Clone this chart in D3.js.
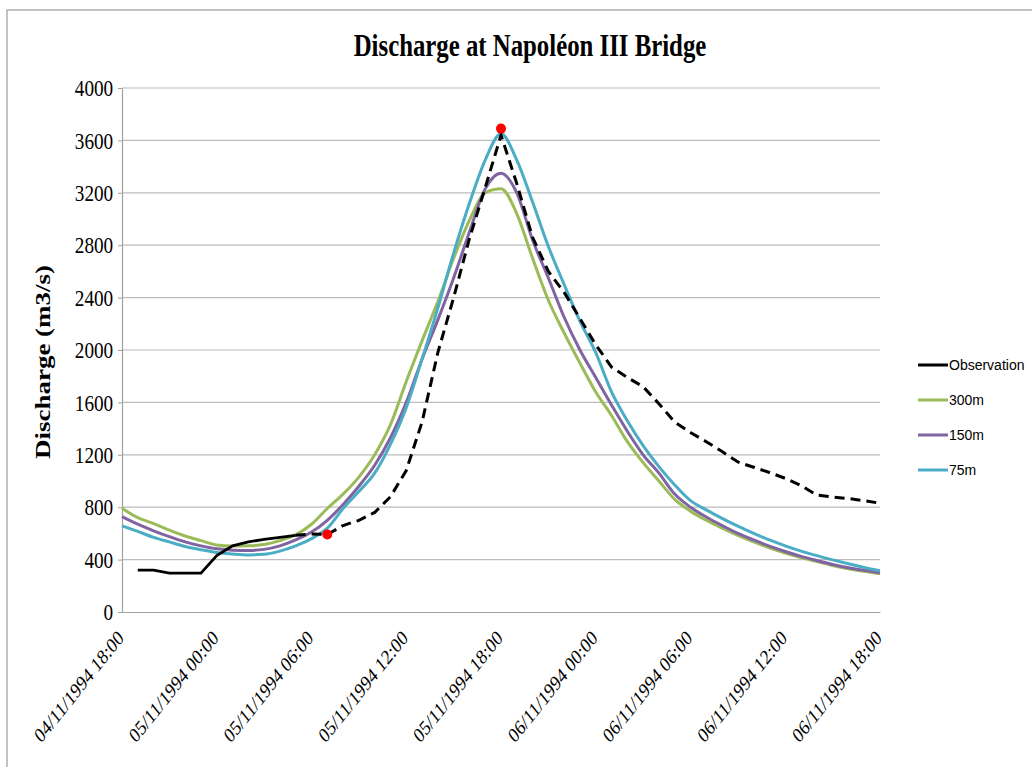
<!DOCTYPE html>
<html>
<head>
<meta charset="utf-8">
<script src="https://cdn.jsdelivr.net/npm/d3@7/dist/d3.min.js"></script>
<style>
  body { margin: 0; background: #fff; }
</style>
</head>
<body>
<svg width="1032" height="767"></svg>
<script>
// hourly values, 04/11/1994 18:00 -> 06/11/1994 18:00
var tickLabels = ["04/11/1994 18:00", "05/11/1994 00:00", "05/11/1994 06:00", "05/11/1994 12:00",
  "05/11/1994 18:00", "06/11/1994 00:00", "06/11/1994 06:00", "06/11/1994 12:00", "06/11/1994 18:00"];
var yTicks = [0, 400, 800, 1200, 1600, 2000, 2400, 2800, 3200, 3600, 4000];

var observation = [null, 320, 320, 297, 297, 297, 430, 505, 535, 555, 570, 585, 595, 592,
  660, 700, 760, 880, 1080, 1450, 1980, 2400, 2850, 3240, 3640, 3270, 2860, 2600, 2440,
  2240, 2040, 1870, 1790, 1720, 1590, 1450, 1370, 1300, 1225, 1145, 1105, 1065, 1020,
  965, 893, 878, 866, 850, 830];
var obsSolidEnd = 11; // observation drawn solid up to this hour, dashed after

var m300 = [792, 720, 675, 625, 580, 545, 512, 503, 505, 515, 545, 590, 670, 790,
  900, 1030, 1200, 1430, 1760, 2070, 2370, 2700, 2990, 3200, 3230, 3040, 2700, 2380,
  2130, 1900, 1680, 1500, 1300, 1140, 1000, 860, 770, 700, 640, 585, 535, 490, 450,
  415, 385, 355, 330, 310, 292];
var m150 = [728, 670, 620, 575, 535, 505, 482, 472, 470, 478, 505, 550, 610, 700,
  820, 960, 1120, 1330, 1600, 1930, 2230, 2550, 2900, 3230, 3350, 3200, 2840, 2550,
  2250, 2000, 1790, 1580, 1380, 1200, 1060, 900, 800, 725, 660, 600, 550, 503, 462,
  425, 393, 363, 338, 318, 300];
var m75 = [658, 615, 570, 535, 500, 475, 455, 443, 436, 440, 465, 505, 560, 640,
  790, 920, 1060, 1280, 1560, 1930, 2320, 2740, 3120, 3450, 3650, 3450, 3130, 2790,
  2500, 2220, 1980, 1680, 1460, 1270, 1110, 970, 850, 780, 715, 655, 600, 550, 505,
  465, 430, 398, 368, 340, 315];

// red markers: [hour, value]
var markers = [[13, 592], [24, 3690]];

var seriesNames = ["Observation", "300m", "150m", "75m"];
var seriesColors = ["#000000", "#9bbb59", "#8064a2", "#4bacc6"];

var svg = d3.select("svg");
var plotLeft = 122, plotRight = 880, plotTop = 88, plotBottom = 612;
var sx = 0.8; // text is horizontally squeezed in the original

var parse = d3.timeParse("%d/%m/%Y %H:%M");
var fmt = d3.timeFormat("%d/%m/%Y %H:%M");
var start = parse(tickLabels[0]);
var hourDate = function(h) { return d3.timeHour.offset(start, h); };

var x = d3.scaleTime()
  .domain([start, parse(tickLabels[tickLabels.length - 1])])
  .range([plotLeft, plotRight]);
var y = d3.scaleLinear().domain([0, 4000]).range([plotBottom, plotTop]);

// outer frame
svg.append("rect")
  .attr("x", 7).attr("y", 10).attr("width", 1100).attr("height", 800)
  .attr("fill", "none").attr("stroke", "#b0b0b0").attr("stroke-width", 1.5);

// title
svg.append("text")
  .attr("transform", "translate(530,56) scale(" + sx + ",1)")
  .attr("text-anchor", "middle")
  .style("font-family", "'Liberation Serif', 'Times New Roman', serif")
  .style("font-weight", "bold")
  .style("font-size", "31px")
  .text("Discharge at Napoléon III Bridge");

// grid
svg.append("g")
  .selectAll("line")
  .data(yTicks.filter(function(d) { return d > 0; }))
  .enter().append("line")
  .attr("x1", plotLeft).attr("x2", plotRight)
  .attr("y1", function(d) { return y(d); })
  .attr("y2", function(d) { return y(d); })
  .attr("stroke", "#bcbcbc").attr("stroke-width", 1.2);

// y axis
var yAxis = svg.append("g")
  .attr("transform", "translate(" + plotLeft + ",0)")
  .call(d3.axisLeft(y).tickValues(yTicks).tickFormat(d3.format("d"))
    .tickSize(4).tickPadding(7).tickSizeOuter(0));
yAxis.select(".domain").attr("stroke", "#a0a0a0").attr("stroke-width", 1.2);
yAxis.selectAll(".tick line").attr("stroke", "#a0a0a0");
yAxis.selectAll("text")
  .attr("transform", "scale(" + sx + ",1)")
  .attr("x", -11)
  .style("font-family", "'Liberation Serif', 'Times New Roman', serif")
  .style("font-size", "24px")
  .attr("fill", "#000");

// x axis
var xAxis = svg.append("g")
  .attr("transform", "translate(0," + plotBottom + ")")
  .call(d3.axisBottom(x).tickValues(tickLabels.map(parse)).tickFormat(fmt).tickSize(0).tickSizeOuter(0));
xAxis.select(".domain").attr("stroke", "#a0a0a0").attr("stroke-width", 1.2);
xAxis.selectAll("text")
  .attr("x", 0).attr("y", 0).attr("dy", "0.35em")
  .attr("text-anchor", "end")
  .attr("transform", "translate(-2,22) scale(" + sx + ",1) rotate(-45)")
  .style("font-family", "'Liberation Serif', 'Times New Roman', serif")
  .style("font-size", "21px")
  .attr("fill", "#000");

// y title
svg.append("text")
  .attr("transform", "translate(42,362) scale(" + sx + ",1) rotate(-90)")
  .attr("text-anchor", "middle")
  .attr("dy", "0.35em")
  .style("font-family", "'Liberation Serif', 'Times New Roman', serif")
  .style("font-weight", "bold")
  .style("font-size", "27px")
  .text("Discharge (m3/s)");

// lines
var smooth = d3.line()
  .x(function(d, i) { return x(hourDate(i)); })
  .y(function(d) { return y(d); })
  .curve(d3.curveMonotoneX);

var straight = d3.line()
  .defined(function(d) { return d[1] !== null; })
  .x(function(d) { return x(hourDate(d[0])); })
  .y(function(d) { return y(d[1]); });

var models = [m300, m150, m75];
svg.append("g")
  .selectAll("path")
  .data(models)
  .enter().append("path")
  .attr("d", smooth)
  .attr("fill", "none")
  .attr("stroke", function(d, i) { return seriesColors[i + 1]; })
  .attr("stroke-width", 3);

var obsPts = observation.map(function(v, i) { return [i, v]; });
svg.append("path")
  .attr("d", straight(obsPts.slice(0, obsSolidEnd + 1)))
  .attr("fill", "none").attr("stroke", "#000").attr("stroke-width", 2.8);
svg.append("path")
  .attr("d", straight(obsPts.slice(obsSolidEnd)))
  .attr("fill", "none").attr("stroke", "#000").attr("stroke-width", 3)
  .attr("stroke-dasharray", "10,6");

svg.append("g")
  .selectAll("circle")
  .data(markers)
  .enter().append("circle")
  .attr("cx", function(d) { return x(hourDate(d[0])); })
  .attr("cy", function(d) { return y(d[1]); })
  .attr("r", 5)
  .attr("fill", "#ff0000");

// legend
var legend = svg.append("g").attr("transform", "translate(918,365)");
var item = legend.selectAll("g")
  .data(seriesNames)
  .enter().append("g")
  .attr("transform", function(d, i) { return "translate(0," + (i * 35) + ")"; });
item.append("line")
  .attr("x1", 0).attr("x2", 30)
  .attr("stroke", function(d, i) { return seriesColors[i]; })
  .attr("stroke-width", 3);
item.append("text")
  .attr("x", 31).attr("dy", "0.35em")
  .style("font-family", "'Liberation Sans', Arial, sans-serif")
  .style("font-size", "14px")
  .text(function(d) { return d; });
</script>
</body>
</html>
